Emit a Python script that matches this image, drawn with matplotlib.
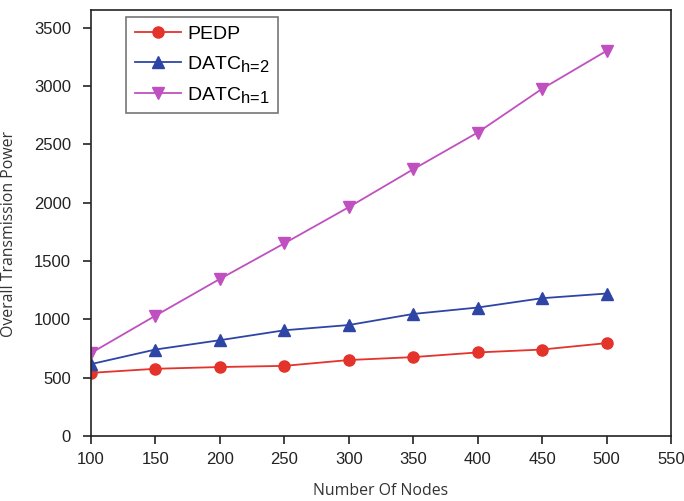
import numpy as np
import matplotlib.pyplot as plt
import matplotlib._mathtext as mt

nodes = [100, 150, 200, 250, 300, 350, 400, 450, 500]
pedp = [540, 575, 590, 600, 650, 675, 715, 740, 795]
datc_h2 = [615, 740, 820, 905, 950, 1045, 1100, 1180, 1220]
datc_h1 = [710, 1030, 1345, 1650, 1960, 2285, 2600, 2975, 3300]

xticks = [100, 150, 200, 250, 300, 350, 400, 450, 500, 550]
yticks = [0, 500, 1000, 1500, 2000, 2500, 3000, 3500]

plt.rcParams['font.family'] = ['Liberation Sans', 'DejaVu Sans']
plt.rcParams['mathtext.fontset'] = 'custom'
plt.rcParams['mathtext.rm'] = 'Liberation Sans'
plt.rcParams['mathtext.it'] = 'Liberation Sans'
mt.SHRINK_FACTOR = 0.85  # bigger subscripts like the original

fig = plt.figure(figsize=(6.84, 5.01), dpi=100)
ax = fig.add_axes([0.133, 0.13, 0.848, 0.85])

ax.plot(nodes, pedp, color='#e3332a', marker='o', markersize=8, lw=1.3, label='PEDP')
ax.plot(nodes, datc_h2, color='#2e45a6', marker='^', markersize=8, lw=1.3,
        label=r'DATC$_{\mathrm{h\text{=}2}}$')
ax.plot(nodes, datc_h1, color='#c050c0', marker='v', markersize=8, lw=1.3,
        label=r'DATC$_{\mathrm{h\text{=}1}}$')

ax.set_xlim(100, 550)
ax.set_ylim(0, 3650)
ax.set_xticks(xticks)
ax.set_yticks(yticks)
ax.tick_params(direction='out', length=6, width=1.2, labelsize=12, colors='#222222')
ax.tick_params(axis='x', pad=5.5)
ax.tick_params(axis='y', pad=8.5)
for s in ax.spines.values():
    s.set_linewidth(1.2)
    s.set_color('#222222')

ax.set_xlabel('Number Of Nodes', family='Open Sans', fontsize=11.4, color='#333333')
ax.set_ylabel('Overall Transmission Power', family='Open Sans', fontsize=11.4, color='#333333')
ax.xaxis.set_label_coords(0.5, -0.11)
ax.yaxis.set_label_coords(-0.127, 0.475)

leg = ax.legend(loc='upper left', bbox_to_anchor=(0.06, 0.984), borderaxespad=0,
                fontsize=14, frameon=True, fancybox=False, edgecolor='#555555',
                handlelength=2.4, borderpad=0.45, labelspacing=0.55, handletextpad=0.3)
leg.get_frame().set_linewidth(1.2)

fig.savefig('out.png', dpi=100)
